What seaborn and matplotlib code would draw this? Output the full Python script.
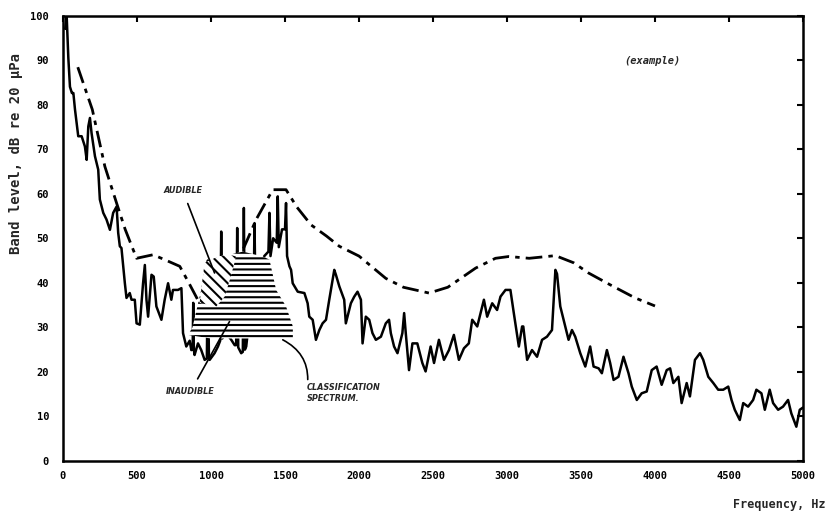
import matplotlib
matplotlib.use("Agg")
import matplotlib.pyplot as plt
import seaborn as sns
import pandas as pd

# ---------------- data ----------------
spec_f = [15, 25, 36, 47, 60, 70, 81, 92, 103, 126, 148, 160, 171, 182, 193, 216, 238, 249, 272, 294, 317,
          339, 362, 373, 384, 395, 418, 429, 451, 463, 485, 497, 519, 541, 553, 564, 575, 598, 613, 631,
          665, 687, 710, 732, 743, 777, 800, 811, 833, 856, 867, 876, 880, 884, 889, 912, 934, 957, 972, 979,
          986, 991, 1024, 1047, 1062, 1069, 1076, 1103, 1137, 1160, 1170, 1177, 1184, 1204, 1215, 1222, 1229,
          1238, 1260, 1287, 1294, 1301, 1330, 1360, 1388, 1395, 1402, 1420, 1444, 1451, 1458, 1480, 1500,
          1507, 1514, 1530, 1541, 1552, 1586, 1631, 1653, 1664, 1687, 1709, 1732, 1754, 1777, 1799, 1833,
          1844, 1867, 1900, 1911, 1945, 1968, 1990, 2013, 2024, 2046, 2069, 2091, 2114, 2148, 2181, 2203,
          2215, 2237, 2260, 2293, 2305, 2316, 2338, 2361, 2394, 2428, 2450, 2484, 2507, 2540, 2574, 2608,
          2641, 2675, 2709, 2742, 2765, 2799, 2844, 2866, 2900, 2933, 2956, 2990, 3023, 3046, 3080, 3102,
          3110, 3136, 3169, 3203, 3237, 3270, 3304, 3327, 3338, 3360, 3394, 3416, 3439, 3461, 3495, 3529,
          3562, 3585, 3619, 3641, 3675, 3697, 3720, 3753, 3787, 3821, 3843, 3877, 3910, 3944, 3978, 4011,
          4045, 4079, 4102, 4124, 4158, 4180, 4214, 4236, 4270, 4304, 4326, 4360, 4394, 4427, 4461, 4495,
          4517, 4539, 4573, 4596, 4629, 4663, 4685, 4719, 4742, 4775, 4798, 4832, 4865, 4899, 4921, 4955,
          4978, 5000]
spec_v = [97, 99.8, 90.5, 84, 82.6, 82.6, 78.9, 75.9, 72.9, 72.9, 70.6, 67.6, 75.1, 77, 73.6, 68.4, 65.4,
          58.7, 55.7, 54.2, 51.9, 55.7, 57.1, 51.2, 48.2, 47.8, 39.9, 36.6, 37.7, 36.2, 36.2, 30.9, 30.6,
          39.9, 44.0, 36.2, 32.4, 41.8, 41.4, 34.7, 31.7, 36.2, 39.9, 36.2, 38.4, 38.4, 38.8, 28.7, 25.7,
          27.0, 24.9, 25.0, 35.5, 25.0, 23.8, 26.4, 24.9, 22.7, 23.0, 45.0, 23.0, 22.7, 24.2, 25.7, 27.0,
          51.5, 27.5, 28.7, 27.2, 26.0, 26.0, 52.3, 25.5, 24.2, 24.5, 56.8, 25.0, 25.7, 32.4, 35.0, 53.4,
          36.0, 42.0, 46.0, 47.0, 55.7, 46.0, 50.0, 49.0, 59.4, 48.0, 52.0, 52.0, 57.9, 46.0, 43.7, 42.9,
          39.9, 38.0, 37.7, 35.4, 32.4, 31.7, 27.2, 29.4, 30.9, 31.7, 36.2, 42.9, 41.8, 39.2, 36.2, 30.9,
          35.4, 36.9, 38.0, 36.2, 26.4, 32.4, 31.7, 28.7, 27.2, 27.9, 30.9, 31.7, 28.7, 25.7, 24.2, 28.7,
          33.2, 28.7, 20.4, 26.4, 26.4, 22.0, 20.1, 25.7, 22.0, 27.2, 22.7, 24.9, 28.3, 22.7, 25.3, 26.4,
          31.7, 30.2, 36.2, 32.4, 35.4, 33.9, 36.9, 38.4, 38.4, 33.2, 25.7, 30.2, 30.2, 22.7, 24.9, 23.4,
          27.2, 27.9, 29.4, 42.9, 42.0, 34.7, 30.2, 27.2, 29.4, 27.9, 24.2, 21.2, 25.7, 21.2, 20.8, 19.7,
          24.9, 22.0, 18.2, 18.9, 23.4, 19.7, 16.7, 13.7, 15.2, 15.6, 20.4, 21.2, 17.1, 20.4, 20.8, 17.5,
          18.9, 13.0, 17.5, 14.5, 22.7, 24.2, 22.7, 18.9, 17.5, 16.0, 16.0, 16.7, 13.7, 11.5, 9.2, 13.0,
          12.2, 13.7, 16.0, 15.2, 11.5, 16.0, 13.0, 11.5, 12.2, 13.7, 10.7, 7.7, 11.5, 12.0]

env_f = [100, 198, 283, 362, 420, 497, 609, 700, 789, 850, 923, 980, 1050, 1150, 1250, 1305, 1417, 1507,
         1580, 1676, 1780, 1867, 2000, 2181, 2300, 2473, 2600, 2788, 2922, 3012, 3150, 3327, 3450, 3551,
         3700, 3866, 4000]
env_v = [88.4, 78.9, 66.1, 57.9, 52.0, 45.5, 46.3, 45.0, 43.7, 40.0, 35.4, 34.5, 37.0, 42.5, 50.0, 54.2,
         60.9, 60.9, 57.0, 53.0, 50.5, 48.2, 46.0, 41.0, 39.0, 37.7, 39.0, 43.3, 45.5, 45.9, 45.5, 46.1,
         44.5, 42.2, 39.5, 36.6, 34.8]

# classification spectrum (shaded) and audible part outlines
class_f = [845, 875, 934, 957, 1047, 1125, 1215, 1350, 1395, 1440, 1507, 1553, 1553, 1300, 1000, 845]
class_v = [28.3, 30.0, 38.4, 44.0, 45.9, 46.3, 47.0, 45.9, 45.2, 38.4, 34.7, 30.2, 27.2, 27.5, 27.5, 28.3]
aud_f = [923, 957, 1047, 1125, 1170, 1130, 1092, 1036, 923]
aud_v = [35.5, 44.5, 45.9, 46.3, 45.9, 41.0, 36.9, 34.7, 35.5]

x_ticks = [0, 500, 1000, 1500, 2000, 2500, 3000, 3500, 4000, 4500, 5000]
y_ticks = [0, 10, 20, 30, 40, 50, 60, 70, 80, 90, 100]

# ---------------- plot ----------------
sns.set_style("white")
plt.rcParams['font.family'] = ['DejaVu Sans Mono', 'DejaVu Sans']
plt.rcParams['hatch.linewidth'] = 1.5

fig = plt.figure(figsize=(8.28, 5.14), dpi=100)
ax = fig.add_axes([63 / 828, 1 - 461 / 514, 740 / 828, (461 - 15.5) / 514])

spec = pd.DataFrame({"f": spec_f, "v": spec_v})
env = pd.DataFrame({"f": env_f, "v": env_v})

sns.lineplot(data=spec, x="f", y="v", ax=ax, color="black", lw=1.8, estimator=None, sort=False, zorder=2)
sns.lineplot(data=env, x="f", y="v", ax=ax, color="black", lw=2.0, estimator=None, sort=False,
             dashes=False, zorder=2)
ax.lines[-1].set_dashes([6, 2.2, 1.6, 2.2])

ax.fill(class_f, class_v, facecolor="white", edgecolor="black", hatch="---", lw=0, zorder=3)
ax.fill(aud_f, aud_v, facecolor="white", edgecolor="black", hatch="\\\\\\", lw=0, zorder=4)

ax.set_xlim(0, 5000)
ax.set_ylim(0, 100)
ax.set_xticks(x_ticks)
ax.set_yticks(y_ticks)
ax.set_xticklabels([str(t) for t in x_ticks], fontsize=7.5, fontweight="bold")
ax.set_yticklabels([str(t) for t in y_ticks], fontsize=7.5, fontweight="bold")
ax.tick_params(direction="in", length=4, width=1.5, top=True, right=True, colors="black")
ax.tick_params(axis="x", pad=7)
ax.tick_params(axis="y", pad=10)
for s in ax.spines.values():
    s.set_visible(True)
    s.set_linewidth(1.8)
    s.set_color("black")

ax.set_xlabel("Frequency, Hz", fontsize=8.5, fontweight="bold", ha="right")
ax.xaxis.set_label_coords(1.031, -0.083)
ax.set_ylabel("Band level, dB re 20 µPa", fontsize=10, fontweight="bold")
ax.yaxis.set_label_coords(-0.054, 0.69)

ax.text(3980, 89.7, "(example)", fontsize=7.5, fontweight="bold", style="italic",
        ha="center", va="center")

hand = dict(family=["DejaVu Sans"], fontsize=6.5, fontweight="bold", style="italic", stretch="condensed")
ax.annotate("AUDIBLE", xy=(1024, 42.2), xytext=(809, 60.7), ha="center", va="center", **hand,
            arrowprops=dict(arrowstyle="-", color="black", lw=1.2, shrinkA=4, shrinkB=0), zorder=6)
ax.annotate("INAUDIBLE", xy=(1125, 31.3), xytext=(862, 15.6), ha="center", va="center", **hand,
            arrowprops=dict(arrowstyle="-", color="black", lw=1.2, shrinkA=4, shrinkB=0), zorder=6)
ax.annotate("CLASSIFICATION\nSPECTRUM.", xy=(1485, 27.2), xytext=(1650, 15.3), ha="left", va="center",
            linespacing=1.3, **hand,
            arrowprops=dict(arrowstyle="-", color="black", lw=1.2, shrinkA=0, shrinkB=0,
                            connectionstyle="arc3,rad=0.35", relpos=(0, 0.8)), zorder=6)

fig.savefig("out.png", dpi=100)
